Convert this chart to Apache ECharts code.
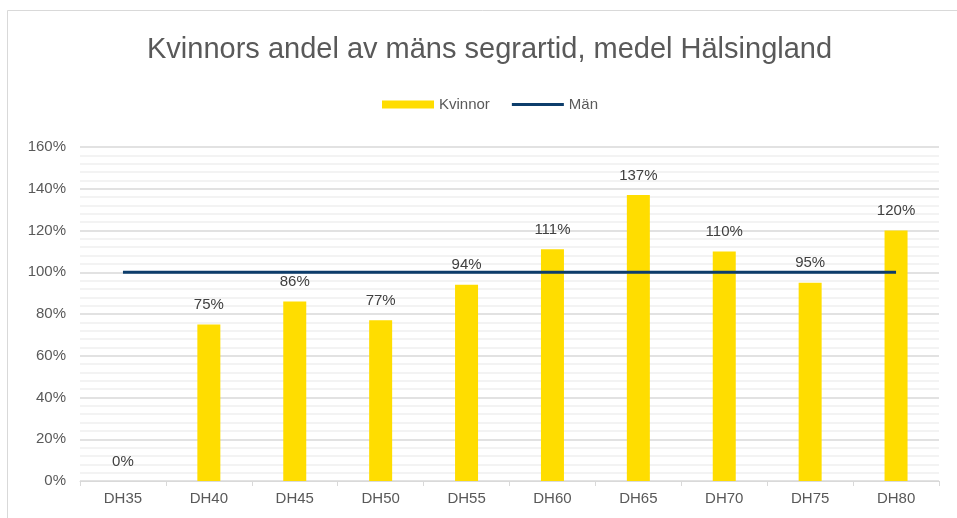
<!DOCTYPE html>
<html>
<head>
<meta charset="utf-8">
<script src="https://cdn.jsdelivr.net/npm/echarts@6/dist/echarts.min.js"></script>
<style>
html, body { margin: 0; padding: 0; background: #fff; }
#chart { width: 957px; height: 518px; }
</style>
</head>
<body>
<div id="chart"></div>
<script>
// data
var categories = ['DH35', 'DH40', 'DH45', 'DH50', 'DH55', 'DH60', 'DH65', 'DH70', 'DH75', 'DH80'];
var kvinnor = [0, 75, 86, 77, 94, 111, 137, 110, 95, 120];
var man = [100, 100, 100, 100, 100, 100, 100, 100, 100, 100];

var myChart = echarts.init(document.getElementById('chart'));
var font = '"Liberation Sans", Arial, sans-serif';

var option = {
    backgroundColor: '#fff',
    animation: false,
    textStyle: {fontFamily: font},
    title: {
        text: 'Kvinnors andel av mäns segrartid, medel Hälsingland',
        left: 142,
        top: 30,
        textStyle: {fontFamily: font, fontSize: 29, fontWeight: 'normal', color: '#595959'}
    },
    legend: {
        top: 92,
        left: 377,
        itemGap: 22,
        textStyle: {fontFamily: font, fontSize: 15, color: '#595959'},
        data: [
            {name: 'Kvinnor', icon: 'rect', itemStyle: {color: '#ffdd00'}},
            {name: 'Män', icon: 'path://M0,0L52,0L52,3L0,3Z', itemStyle: {color: '#0d3d6b'}}
        ],
        itemWidth: 52,
        itemHeight: 8
    },
    grid: {left: 80, right: 18, top: 147, bottom: 37},
    xAxis: {
        type: 'category',
        data: categories,
        axisLine: {lineStyle: {color: '#d9d9d9', width: 1}},
        axisTick: {show: true, alignWithLabel: false, length: 5, lineStyle: {color: '#d9d9d9'}},
        axisLabel: {fontFamily: font, fontSize: 15, color: '#595959', margin: 10}
    },
    yAxis: {
        type: 'value',
        min: 0,
        max: 160,
        interval: 20,
        axisLine: {show: false},
        axisTick: {show: false},
        axisLabel: {
            fontFamily: font, fontSize: 15, color: '#595959', margin: 14,
            formatter: function (v) { return v + '%'; }
        },
        splitLine: {lineStyle: {color: '#d9d9d9', width: 1.5}},
        minorTick: {show: false, splitNumber: 5},
        minorSplitLine: {show: true, lineStyle: {color: '#efefef', width: 1.5}}
    },
    series: [
        {
            name: 'Kvinnor',
            type: 'bar',
            data: kvinnor,
            barWidth: 23,
            itemStyle: {color: '#ffdd00'},
            label: {
                show: true,
                position: 'top',
                distance: 12,
                fontFamily: font,
                fontSize: 15,
                color: '#404040',
                formatter: function (p) { return p.value + '%'; }
            },
            z: 2
        },
        {
            name: 'Män',
            type: 'line',
            data: man,
            symbol: 'none',
            lineStyle: {color: '#0d3d6b', width: 3},
            itemStyle: {color: '#0d3d6b'},
            z: 3
        }
    ],
    graphic: [{
        type: 'rect',
        shape: {x: 7.5, y: 10.5, width: 960, height: 520},
        style: {fill: 'none', stroke: '#d9d9d9', lineWidth: 1},
        silent: true
    }]
};
myChart.setOption(option);
</script>
</body>
</html>
